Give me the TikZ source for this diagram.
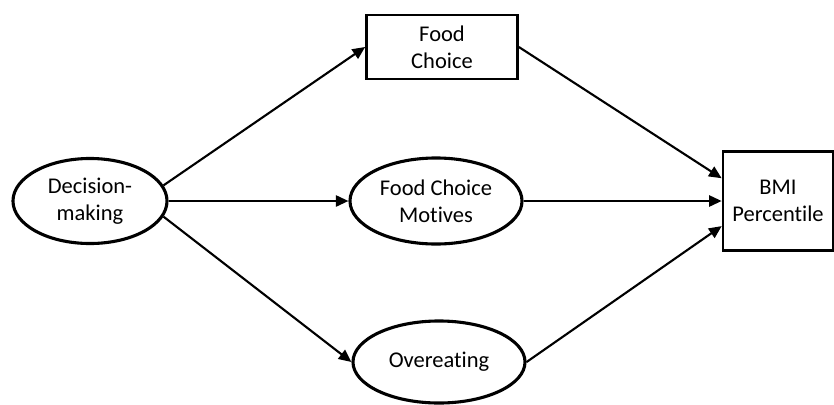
\documentclass[tikz,border=0pt]{standalone}
\usepackage{fontspec}
\setmainfont{Carlito}[Ligatures=NoCommon]
\usetikzlibrary{shapes.geometric,arrows.meta}

\tikzset{
  oval/.style={ellipse, draw, line width=2.2pt, inner sep=0pt, align=center,
    font=\fontsize{16}{19.5}\selectfont},
  box/.style={rectangle, draw, line width=1.9pt, inner sep=0pt, align=center,
    font=\fontsize{16}{19.5}\selectfont},
  link/.style={line width=1.5pt, -{Triangle[length=9pt,width=8pt]}}
}

\begin{document}
\begin{tikzpicture}[x=0.025cm, y=0.025cm]
  \useasboundingbox (0,0) rectangle (834,404);
  % nodes
  \node[oval, minimum width=3.85cm, minimum height=2.125cm] (dm) at (90,203) {Decision-\\making};
  \node[box, minimum width=3.775cm, minimum height=1.6cm] (fc) at (442,357) {Food\\Choice};
  \node[oval, minimum width=4.3cm, minimum height=2.15cm] (fcm) at (436,203) {Food Choice\\Motives};
  \node[oval, minimum width=4.3cm, minimum height=2.05cm] (oe) at (439,42) {Overeating};
  \node[box, minimum width=2.75cm, minimum height=2.475cm] (bmi) at (778,203) {BMI\\Percentile};
  % paths
  \draw[link] (dm.12) -- (fc.west);
  \draw[link] (dm.east) -- (fcm.west);
  \draw[link] (dm.-12) -- (oe.west);
  \draw[link] (fc.east) -- (bmi.158);
  \draw[link] (fcm.east) -- (bmi.west);
  \draw[link] (oe.east) -- (bmi.204);
\end{tikzpicture}
\end{document}
